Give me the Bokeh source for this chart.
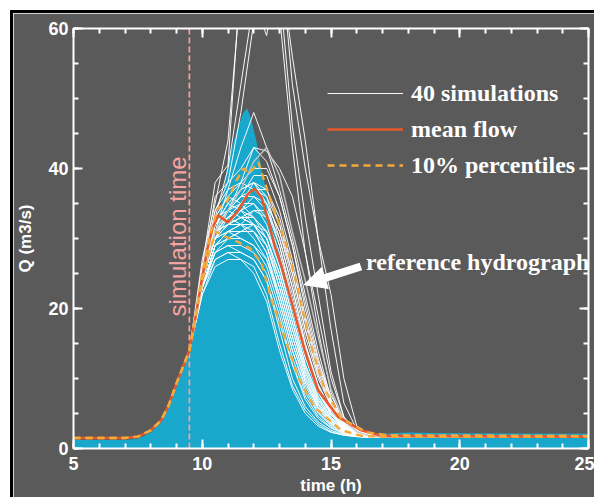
from math import pi
from bokeh.plotting import figure
from bokeh.models import (Range1d, LinearAxis, SingleIntervalTicker, Legend, LegendItem,
                          Label, Arrow, NormalHead, CustomLabelingPolicy)
from bokeh.embed import file_html
from bokeh.resources import INLINE

# ---------------- data ----------------
sim_time = [9.5, 10, 10.5, 11, 11.5, 12, 12.5, 13, 13.5, 14, 14.5, 15, 15.5, 16, 16.5, 17, 25]
sim_flows = [
    [14, 26, 38, 40.5, 68, 95, 110, 72, 52, 40, 30, 22, 10, 3.2, 2.0, 1.7, 1.6],
    [14, 27, 35, 44, 66, 88, 92, 66, 46, 33, 22, 11, 4.5, 2.3, 1.8, 1.6, 1.6],
    [14, 25, 33, 40, 52, 64, 59, 70, 56, 44, 30, 17, 6.5, 2.7, 1.9, 1.7, 1.6],
    [14, 26, 34, 38, 48, 61, 75, 62, 43, 28, 17, 8, 3.5, 2.0, 1.7, 1.6, 1.6],
    [14, 24, 31, 37, 43, 48, 43, 37, 30, 22, 14, 7, 3.4, 2.1, 1.7, 1.6, 1.6],
    [14, 24, 30, 34, 38, 43, 42.5, 40, 36, 28, 19, 10, 4.5, 2.4, 1.8, 1.6, 1.6],
    [14, 25, 36, 38, 40, 43, 41, 36, 29, 21, 13, 6.5, 3.2, 2.1, 1.7, 1.6, 1.6],
    [14, 24, 31, 33, 34, 35, 33, 27, 20, 13, 8, 4.8, 3.0, 2.1, 1.8, 1.6, 1.6],
    [14, 23, 29, 30, 30, 29, 26, 20, 13, 8, 5, 3.2, 2.3, 1.9, 1.7, 1.6, 1.6],
    [14, 25, 32, 35, 37, 38, 36, 30, 23, 15, 9, 5.5, 3.4, 2.3, 1.9, 1.7, 1.6],
    [14, 24, 30, 31, 31, 31, 29, 23, 16, 10, 6, 3.8, 2.6, 2.0, 1.7, 1.6, 1.6],
    [14, 24, 32, 34, 35, 37, 37, 33, 26, 18, 11, 6.5, 3.8, 2.5, 1.9, 1.7, 1.6],
    [14, 23, 28, 29, 28, 27, 24, 18, 12, 7.5, 4.6, 3.0, 2.2, 1.8, 1.6, 1.6, 1.6],
    [14, 25, 33, 36, 35, 33, 30, 24, 17, 11, 6.5, 4.0, 2.7, 2.0, 1.7, 1.6, 1.6],
    [14, 24, 31, 32, 33, 34, 33, 28, 21, 14, 8.5, 5.0, 3.1, 2.2, 1.8, 1.6, 1.6],
    [14, 24, 30, 32, 32, 30, 27, 21, 14, 9, 5.5, 3.5, 2.4, 1.9, 1.7, 1.6, 1.6],
    [14, 25, 32, 34, 36, 39, 39, 34, 27, 19, 12, 7, 4.0, 2.6, 2.0, 1.7, 1.6],
    [14, 23, 29, 31, 32, 32, 30, 25, 18, 11, 6.8, 4.2, 2.8, 2.0, 1.7, 1.6, 1.6],
    [14, 24, 30, 33, 34, 33, 31, 26, 19, 12, 7.5, 4.5, 2.9, 2.1, 1.8, 1.6, 1.6],
    [14, 24, 31, 33, 32, 31, 28, 22, 15, 9.5, 5.8, 3.6, 2.5, 1.9, 1.7, 1.6, 1.6],
    [14, 25, 31, 34, 36, 36, 34, 29, 22, 14.5, 9, 5.3, 3.3, 2.3, 1.8, 1.7, 1.6],
    [14, 23, 28, 30, 31, 31, 28, 21, 14, 8.5, 5.2, 3.3, 2.3, 1.9, 1.7, 1.6, 1.6],
    [14, 24, 30, 32, 34, 36, 35, 31, 24, 16, 10, 6, 3.6, 2.4, 1.9, 1.7, 1.6],
    [14, 24, 32, 35, 34, 32, 29, 23, 16, 10, 6.2, 3.9, 2.6, 2.0, 1.7, 1.6, 1.6],
    [14, 25, 32, 33, 35, 38, 37, 32, 25, 17, 10.5, 6.2, 3.7, 2.4, 1.9, 1.7, 1.6],
    [14, 23, 29, 31, 30, 29, 27, 22, 15, 9.5, 5.8, 3.6, 2.5, 1.9, 1.7, 1.6, 1.6],
    [14, 24, 31, 32, 33, 33, 31, 27, 20, 13, 8, 4.8, 3.0, 2.1, 1.8, 1.6, 1.6],
    [14, 24, 30, 31, 32, 34, 34, 30, 23, 15, 9.2, 5.5, 3.4, 2.3, 1.9, 1.7, 1.6],
    [14, 25, 33, 34, 33, 32, 30, 25, 18, 11.5, 7, 4.3, 2.8, 2.0, 1.7, 1.6, 1.6],
    [14, 24, 31, 33, 35, 35, 32, 26, 19, 12, 7.3, 4.4, 2.9, 2.1, 1.8, 1.6, 1.6],
    [14, 23, 29, 30, 31, 32, 31, 27, 21, 14, 8.6, 5.1, 3.2, 2.2, 1.8, 1.6, 1.6],
    [14, 24, 31, 34, 37, 38, 35, 29, 21, 13.5, 8.2, 4.9, 3.1, 2.2, 1.8, 1.6, 1.6],
    [14, 24, 30, 32, 33, 32, 29, 24, 17, 10.5, 6.4, 4.0, 2.7, 2.0, 1.7, 1.6, 1.6],
    [14, 22, 27, 28, 27, 26, 22, 15, 9, 5.5, 3.5, 2.4, 1.9, 1.7, 1.6, 1.6, 1.6],
    [14, 23, 27, 28, 28, 27, 24, 17, 10, 6, 3.8, 2.6, 2.0, 1.7, 1.6, 1.6, 1.6],
    [14, 22, 26, 27, 27, 25, 21, 14, 8.5, 5, 3.2, 2.3, 1.9, 1.7, 1.6, 1.6, 1.6],
    [14, 23, 28, 29, 29, 28, 25, 19, 12, 7, 4.3, 2.9, 2.1, 1.8, 1.6, 1.6, 1.6],
    [14, 25, 33, 36, 38, 40, 40, 36, 29, 20, 12.5, 7.5, 4.3, 2.7, 2.0, 1.7, 1.6],
    [14, 25, 34, 37, 38, 37, 35, 31, 25, 17, 10.5, 6.2, 3.7, 2.4, 1.9, 1.7, 1.6],
    [14, 24, 31, 34, 36, 37, 36, 32, 26, 18.5, 11.5, 6.8, 4.0, 2.6, 2.0, 1.7, 1.6],
]

ref_flow = [14, 24, 31, 34, 37, 41, 43, 39, 31, 24, 16, 8.5, 4.0, 2.4, 1.8, 1.6, 1.6]

mean_time = [5, 7, 7.5, 8, 8.4, 8.7, 9.0, 9.5, 9.75, 10.0, 10.2, 10.4, 10.62, 11.0, 11.4, 11.78,
             12.04, 12.3, 12.56, 12.82, 13.08, 13.35, 13.98, 14.5, 15.28, 16.18, 17, 25]
mean_flow = [1.5, 1.5, 1.7, 2.6, 4.0, 6.2, 9.3, 14.0, 19.0, 24.5, 28.5, 31.5, 33.3, 32.3, 34.0, 36.4,
             37.1, 35.9, 32.6, 28.8, 26.0, 22.5, 14.0, 8.3, 4.5, 2.6, 1.8, 1.7]

upper_time = [5, 7, 7.5, 8, 8.4, 8.7, 9.0, 9.5, 9.75, 10.0, 10.3, 10.6, 10.94, 11.33, 11.6, 11.83,
              12.18, 12.4, 12.8, 13.34, 13.7, 14.2, 14.75, 15.4, 16.4, 17.2, 25]
upper_flow = [1.5, 1.5, 1.7, 2.6, 4.0, 6.2, 9.3, 14.0, 19.2, 25.0, 30.5, 34.3, 35.1, 38.3, 40.0, 39.3,
              40.9, 38.3, 34.0, 28.3, 23.0, 15.0, 8.5, 4.3, 2.3, 1.9, 1.8]

lower_time = [5, 7, 7.5, 8, 8.4, 8.7, 9.0, 9.5, 9.75, 10.0, 10.3, 10.55, 10.67, 11.0, 11.45, 11.85,
              12.3, 12.7, 13.2, 13.73, 14.36, 15.4, 16.2, 17, 25]
lower_flow = [1.5, 1.5, 1.7, 2.6, 4.0, 6.2, 9.3, 14.0, 18.8, 23.8, 28.5, 31.0, 30.7, 30.1, 29.4, 28.6,
              26.5, 21.1, 15.9, 10.1, 5.9, 2.6, 1.8, 1.7, 1.7]

obs_time = [5, 7, 7.5, 8, 8.4, 8.7, 9.0, 9.5, 10, 10.5, 10.8, 11.0, 11.3, 11.6, 11.75, 11.9, 12.1,
            12.3, 12.7, 13.0, 13.3, 13.7, 14.0, 14.5, 15.1, 15.6, 16.2, 17, 18, 19, 25]
obs_flow = [1.2, 1.2, 1.4, 2.3, 3.7, 5.9, 9.0, 13.7, 24, 31, 36, 41, 45, 48, 48.6, 47, 44,
            40, 33, 28, 24, 18.5, 14, 9, 5.2, 3.2, 2.3, 2.1, 2.3, 2.2, 2.1]

sim_start = 9.5
legend_labels = ["40 simulations", "mean flow", "10% percentiles"]

# ---------------- styles ----------------
BG = "#5a5a5a"
BLUE = "#1aa7cc"
RED = "#e5582c"
ORANGE = "#f4a93b"
PINK = "#f4a3a3"
SANS = "Liberation Sans"
SERIF = "Liberation Serif"

p = figure(width=584, height=487, x_range=Range1d(5, 25), y_range=Range1d(0, 60),
           output_backend="svg", toolbar_location=None,
           background_fill_color=BG, border_fill_color=BG,
           min_border_left=59, min_border_right=9, min_border_top=15, min_border_bottom=52,
           margin=(10, 0, 0, 10),
           styles={"border-top": "3px solid black", "border-left": "3px solid black"})
p.outline_line_color = None
p.grid.visible = False

hide_labels = CustomLabelingPolicy(code="""
const out = indices
for (const i of Array.from(indices)) { out.unset(i) }
return out
""")


def style_axis(ax, labels=True):
    ax.axis_line_color = "white"
    ax.axis_line_width = 2
    ax.major_tick_line_color = "white"
    ax.minor_tick_line_color = "white"
    ax.major_tick_line_width = 2
    ax.minor_tick_line_width = 2
    ax.major_tick_in = 9
    ax.major_tick_out = 0
    ax.minor_tick_in = 5
    ax.minor_tick_out = 0
    if labels:
        ax.major_label_text_color = "white"
        ax.major_label_text_font = SANS
        ax.major_label_text_font_style = "bold"
        ax.major_label_text_font_size = "18px"
        ax.axis_label_text_color = "white"
        ax.axis_label_text_font = SANS
        ax.axis_label_text_font_style = "bold"
        ax.axis_label_text_font_size = "17px"
    else:
        ax.major_label_policy = hide_labels
        ax.major_label_text_font_size = "1px"
        ax.major_label_standoff = 0


xb = p.xaxis[0]
xb.ticker = SingleIntervalTicker(interval=5, num_minor_ticks=5)
style_axis(xb)
xb.axis_label = "time (h)"
xb.major_label_standoff = 8
xb.axis_label_standoff = 3

yl = p.yaxis[0]
yl.ticker = SingleIntervalTicker(interval=20, num_minor_ticks=4)
style_axis(yl)
yl.axis_label = "Q (m3/s)"
yl.major_label_standoff = 5
yl.axis_label_standoff = 10

xt = LinearAxis(ticker=SingleIntervalTicker(interval=5, num_minor_ticks=5))
style_axis(xt, labels=False)
p.add_layout(xt, "above")
yr = LinearAxis(ticker=SingleIntervalTicker(interval=20, num_minor_ticks=4))
style_axis(yr, labels=False)
p.add_layout(yr, "right")

# observed / reference area
p.varea(x=obs_time, y1=[0] * len(obs_time), y2=obs_flow, fill_color=BLUE)

# simulation start
p.line(x=[sim_start, sim_start], y=[0, 60], line_color=PINK, line_width=1.7, line_dash="6 3")

sim_renderers = []
for flows in sim_flows:
    r = p.line(x=sim_time, y=flows, line_color="white", line_width=1, line_alpha=0.95)
    sim_renderers.append(r)

p.line(x=sim_time, y=ref_flow, line_color="#c4c4c4", line_width=1.4)

r_mean = p.line(x=mean_time, y=mean_flow, line_color=RED, line_width=2.6)
r_up = p.line(x=upper_time, y=upper_flow, line_color=ORANGE, line_width=2.4, line_dash="7 5")
p.line(x=lower_time, y=lower_flow, line_color=ORANGE, line_width=2.4, line_dash="7 5")

legend = Legend(items=[LegendItem(label=legend_labels[0], renderers=[sim_renderers[0]]),
                       LegendItem(label=legend_labels[1], renderers=[r_mean]),
                       LegendItem(label=legend_labels[2], renderers=[r_up])],
                location=(254, 269), orientation="vertical",
                glyph_width=76, glyph_height=28, label_height=28, label_standoff=8,
                spacing=8, padding=0, margin=0,
                background_fill_alpha=0, border_line_alpha=0,
                label_text_font=SERIF, label_text_font_style="bold",
                label_text_font_size="24px", label_text_color="white")
p.add_layout(legend)

p.add_layout(Label(x=9.03, y=30.3, text="simulation time", angle=pi / 2, angle_units="rad",
                   text_align="center", text_baseline="middle", text_color=PINK,
                   text_font=SANS, text_font_size="24px"))

p.add_layout(Arrow(end=NormalHead(size=22, fill_color="white", line_color="white"),
                   x_start=16.16, y_start=26.0, x_end=13.95, y_end=23.4,
                   line_color="white", line_width=8))

p.add_layout(Label(x=16.36, y=26.6, text="reference hydrograph", text_align="left",
                   text_baseline="middle", text_color="white", text_font=SERIF,
                   text_font_style="bold", text_font_size="24px"))

open("out.html", "w").write(file_html(p, INLINE))
